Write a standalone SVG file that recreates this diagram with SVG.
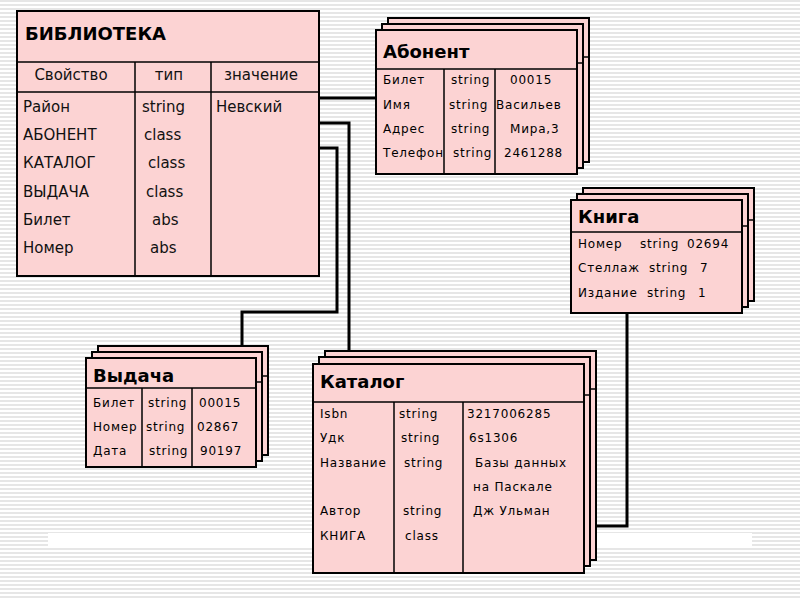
<svg xmlns="http://www.w3.org/2000/svg" width="800" height="600" viewBox="0 0 800 600">
<defs>
<pattern id="ruled" x="0" y="0" width="8" height="4" patternUnits="userSpaceOnUse">
<rect x="0" y="0" width="8" height="4" fill="#ffffff"/>
<rect x="0" y="0" width="8" height="2" fill="#e6e6e6"/>
</pattern>
</defs>
<style>
.box{fill:#fcd3d3;stroke:#000;stroke-width:2}
.ln{stroke:#000;stroke-width:1.5;fill:none}
.con{stroke:#000;stroke-width:3;fill:none}
text{font-family:"DejaVu Sans","Liberation Sans",sans-serif;fill:#000}
.t1{font-size:18px;font-weight:bold}
.t2{font-size:18px}
.r1{font-size:15px;fill:#111}
.r2{font-size:12px;letter-spacing:0.8px}
</style>
<rect x="0" y="0" width="800" height="600" fill="url(#ruled)"/>
<rect x="48" y="533" width="704" height="13" fill="#ffffff"/>

<g id="connectors">
<polyline class="con" points="319,98 377,98"/>
<polyline class="con" points="319,123 349,123 349,351"/>
<polyline class="con" points="319,148 337,148 337,312 242,312 242,346"/>
<polyline class="con" points="627,313 627,526 585,526"/>
</g>

<g id="biblioteka">
<rect class="box" x="17" y="11" width="302" height="265"/>
<line class="ln" x1="17" y1="62" x2="319" y2="62"/>
<line class="ln" x1="17" y1="92" x2="319" y2="92"/>
<line class="ln" x1="135" y1="62" x2="135" y2="276"/>
<line class="ln" x1="211" y1="62" x2="211" y2="276"/>
<text class="t1" x="25" y="40">БИБЛИОТЕКА</text>
<text class="r1" x="71" y="80" text-anchor="middle">Свойство</text>
<text class="r1" x="169" y="80" text-anchor="middle">тип</text>
<text class="r1" x="261" y="80" text-anchor="middle">значение</text>
<text class="r1" x="23" y="112">Район</text>
<text class="r1" x="23" y="140">АБОНЕНТ</text>
<text class="r1" x="23" y="168">КАТАЛОГ</text>
<text class="r1" x="23" y="197">ВЫДАЧА</text>
<text class="r1" x="23" y="225">Билет</text>
<text class="r1" x="23" y="253">Номер</text>
<text class="r1" x="142" y="112">string</text>
<text class="r1" x="144" y="140">class</text>
<text class="r1" x="148" y="168">class</text>
<text class="r1" x="146" y="197">class</text>
<text class="r1" x="152" y="225">abs</text>
<text class="r1" x="150" y="253">abs</text>
<text class="r1" x="216" y="112">Невский</text>
</g>

<g id="abonent">
<rect class="box" x="388" y="18" width="201" height="144"/>
<line class="ln" x1="388" y1="57" x2="589" y2="57"/>
<rect class="box" x="382" y="24" width="201" height="144"/>
<line class="ln" x1="382" y1="63" x2="583" y2="63"/>
<rect class="box" x="376" y="30" width="201" height="144"/>
<line class="ln" x1="376" y1="69" x2="577" y2="69"/>
<line class="ln" x1="444" y1="69" x2="444" y2="174"/>
<line class="ln" x1="495" y1="69" x2="495" y2="174"/>
<text class="t2" x="383" y="58" font-weight="bold">Абонент</text>
<text class="r2" x="383" y="84">Билет</text>
<text class="r2" x="383" y="109">Имя</text>
<text class="r2" x="383" y="133">Адрес</text>
<text class="r2" x="383" y="157">Телефон</text>
<text class="r2" x="451" y="84">string</text>
<text class="r2" x="449" y="109">string</text>
<text class="r2" x="451" y="133">string</text>
<text class="r2" x="453" y="157">string</text>
<text class="r2" x="510" y="84">00015</text>
<text class="r2" x="496" y="109">Васильев</text>
<text class="r2" x="510" y="133">Мира,3</text>
<text class="r2" x="504" y="157">2461288</text>
</g>

<g id="kniga">
<rect class="box" x="583" y="188" width="171" height="113"/>
<line class="ln" x1="583" y1="220" x2="754" y2="220"/>
<rect class="box" x="577" y="194" width="171" height="113"/>
<line class="ln" x1="577" y1="226" x2="748" y2="226"/>
<rect class="box" x="571" y="200" width="171" height="113"/>
<line class="ln" x1="571" y1="232" x2="742" y2="232"/>
<text class="t2" x="578" y="223" font-weight="bold">Книга</text>
<text class="r2" x="578" y="248">Номер</text>
<text class="r2" x="578" y="272">Стеллаж</text>
<text class="r2" x="578" y="297">Издание</text>
<text class="r2" x="640" y="248">string</text>
<text class="r2" x="649" y="272">string</text>
<text class="r2" x="647" y="297">string</text>
<text class="r2" x="687" y="248">02694</text>
<text class="r2" x="700" y="272">7</text>
<text class="r2" x="698" y="297">1</text>
</g>

<g id="vydacha">
<rect class="box" x="98" y="346" width="170" height="109"/>
<line class="ln" x1="98" y1="376" x2="268" y2="376"/>
<rect class="box" x="92" y="352" width="170" height="109"/>
<line class="ln" x1="92" y1="382" x2="262" y2="382"/>
<rect class="box" x="86" y="358" width="170" height="109"/>
<line class="ln" x1="86" y1="388" x2="256" y2="388"/>
<line class="ln" x1="142" y1="388" x2="142" y2="467"/>
<line class="ln" x1="192" y1="388" x2="192" y2="467"/>
<text class="t2" x="93" y="382" font-weight="bold">Выдача</text>
<text class="r2" x="93" y="407">Билет</text>
<text class="r2" x="93" y="431">Номер</text>
<text class="r2" x="93" y="455">Дата</text>
<text class="r2" x="148" y="407">string</text>
<text class="r2" x="146" y="431">string</text>
<text class="r2" x="149" y="455">string</text>
<text class="r2" x="199" y="407">00015</text>
<text class="r2" x="197" y="431">02867</text>
<text class="r2" x="200" y="455">90197</text>
</g>

<g id="katalog">
<rect class="box" x="325" y="351" width="271" height="209"/>
<line class="ln" x1="325" y1="389" x2="596" y2="389"/>
<rect class="box" x="319" y="357" width="271" height="209"/>
<line class="ln" x1="319" y1="395" x2="590" y2="395"/>
<rect class="box" x="313" y="364" width="271" height="209"/>
<line class="ln" x1="313" y1="402" x2="584" y2="402"/>
<line class="ln" x1="394" y1="402" x2="394" y2="573"/>
<line class="ln" x1="463" y1="402" x2="463" y2="573"/>
<text class="t2" x="320" y="388" font-weight="bold">Каталог</text>
<text class="r2" x="320" y="418">Isbn</text>
<text class="r2" x="320" y="442">Удк</text>
<text class="r2" x="320" y="467">Название</text>
<text class="r2" x="320" y="515">Автор</text>
<text class="r2" x="320" y="540">КНИГА</text>
<text class="r2" x="399" y="418">string</text>
<text class="r2" x="401" y="442">string</text>
<text class="r2" x="404" y="467">string</text>
<text class="r2" x="403" y="515">string</text>
<text class="r2" x="405" y="540">class</text>
<text class="r2" x="467" y="418">3217006285</text>
<text class="r2" x="469" y="442">6s1306</text>
<text class="r2" x="475" y="467">Базы данных</text>
<text class="r2" x="473" y="491">на Паскале</text>
<text class="r2" x="473" y="515">Дж Ульман</text>
</g>
</svg>
